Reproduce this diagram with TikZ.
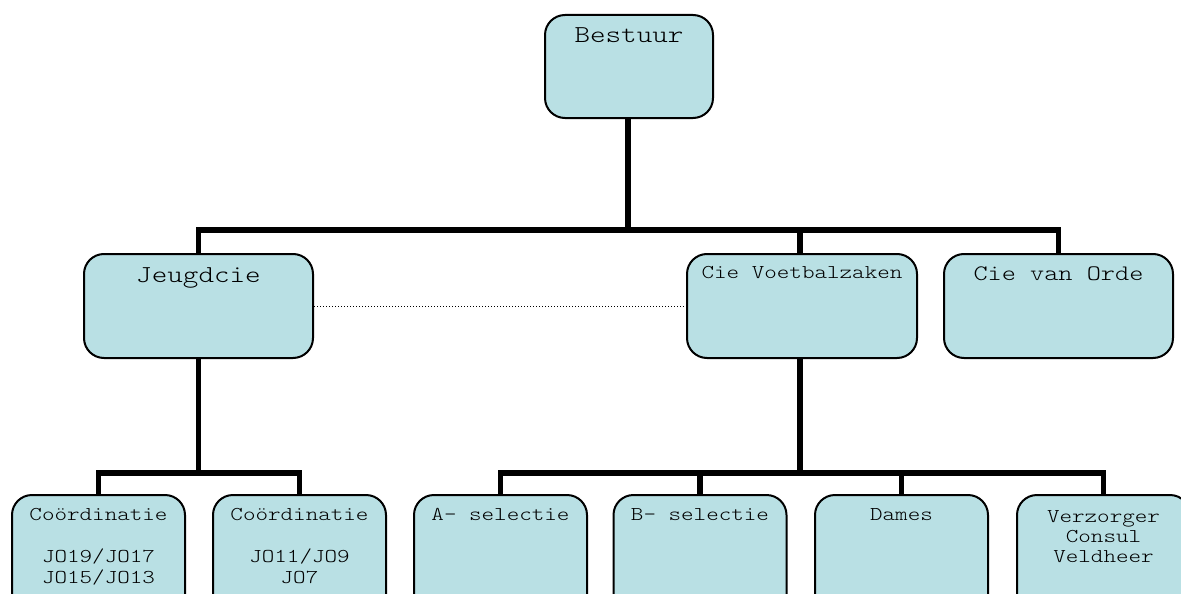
\documentclass[tikz,border=0pt]{standalone}
\usepackage{fontspec}
\newfontfamily\cour{Latin Modern Mono Light}[FakeStretch=1.22]
\usetikzlibrary{backgrounds}
\definecolor{boxfill}{RGB}{185,224,228}
\tikzset{
  box/.style={draw=black, fill=boxfill, line width=2pt, rounded corners=20pt, inner sep=0pt},
  bigbox/.style={box, minimum width=229pt, minimum height=104pt},
  smallbox/.style={box, minimum width=173pt, minimum height=140pt},
  conn/.style={line width=5.5pt, line join=miter},
  txtL/.style={anchor=base, inner sep=0pt, font=\cour\fontsize{24.3}{28}\selectfont},
  txtM/.style={anchor=base, inner sep=0pt, font=\cour\fontsize{22.1}{26}\selectfont},
  txtS/.style={anchor=base, inner sep=0pt, font=\cour\fontsize{19.6}{23}\selectfont},
}
\begin{document}
\begin{tikzpicture}[x=1pt,y=-1pt]
\useasboundingbox (0,0) rectangle (1181,594);
\clip (0,0) rectangle (1181,594);
% boxes
\node[box, minimum width=168pt, minimum height=103pt] (b) at (629,66.5) {};
\node[bigbox] (j) at (198.5,306) {};
\node[bigbox, minimum width=230pt] (v) at (802,306) {};
\node[bigbox] (o) at (1058.5,306) {};
\node[smallbox] (c1) at (98.5,565) {};
\node[smallbox] (c2) at (299.5,565) {};
\node[smallbox] (a) at (500.5,565) {};
\node[smallbox] (bs) at (700,565) {};
\node[smallbox] (d) at (901.5,565) {};
\node[smallbox] (z) at (1103.5,565) {};
% texts
\node[txtL] (tb) at (629,43) {Bestuur};
\node[txtL] (tj) at (198.5,282) {Jeugdcie};
\node[txtS] (tv) at (802,278) {Cie Voetbalzaken};
\node[txtM] (to) at (1058.5,280) {Cie van Orde};
\node[txtS] (tc1a) at (98.5,520) {Coördinatie};
\node[txtS] (tc1b) at (98.5,562) {JO19/JO17};
\node[txtS] (tc1c) at (98.5,583) {JO15/JO13};
\node[txtS] (tc2a) at (299.5,520) {Coördinatie};
\node[txtS] (tc2b) at (299.5,562) {JO11/JO9};
\node[txtS] (tc2c) at (299.5,583) {JO7};
\node[txtS] (ta) at (500.5,520) {A- selectie};
\node[txtS] (tbs) at (700,520) {B- selectie};
\node[txtS] (td) at (901.5,520) {Dames};
\node[txtS] (tz1) at (1103.5,522) {Verzorger};
\node[txtS] (tz2) at (1103.5,542) {Consul};
\node[txtS] (tz3) at (1103.5,562) {Veldheer};
% connectors
\coordinate (trunk) at (628,230);
\coordinate (jbar) at (198.5,473);
\coordinate (vbar) at (800,473);
\begin{scope}[on background layer]
\draw[conn] (b.south -| trunk) -- (trunk);
\draw[conn] (j.north) |- (trunk) -| (o.north);
\draw[conn] (v.north -| vbar) -- (vbar |- trunk);
\draw[conn] (j.south) -- (jbar);
\draw[conn] (c1.north) |- (jbar) -| (c2.north);
\draw[conn] (v.south -| vbar) -- (vbar);
\draw[conn] (a.north) |- (vbar) -| (z.north);
\draw[conn] (bs.north) -- (bs.north |- vbar);
\draw[conn] (d.north) -- (d.north |- vbar);
\end{scope}
\draw[dotted, line width=1pt] (j.east) -- (v.west);
\end{tikzpicture}
\end{document}
